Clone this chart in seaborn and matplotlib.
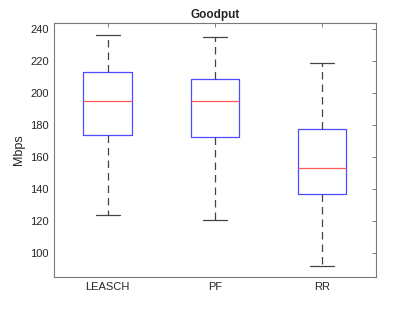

import pandas as pd
import matplotlib
matplotlib.use("Agg")
import matplotlib.pyplot as plt
import seaborn as sns

schedulers = ["LEASCH", "PF", "RR"]
# five-number summaries: min, q1, median, q3, max
leasch = [124, 174, 195, 213.5, 236.5]
pf = [121, 172.5, 195.5, 209, 235]
rr = [92, 137, 153.5, 178, 219]

rows = []
for name, vals in zip(schedulers, [leasch, pf, rr]):
    for v in vals:
        rows.append({"scheduler": name, "goodput": v})
df = pd.DataFrame(rows)

sns.set_style("white")
plt.rcParams["font.family"] = ["Liberation Sans", "DejaVu Sans"]

fig = plt.figure(figsize=(4.15, 3.12), dpi=100)
ax = fig.add_axes([0.130, 0.112, 0.776, 0.814])

sns.boxplot(
    data=df, x="scheduler", y="goodput", order=schedulers,
    whis=(0, 100), width=0.45, fill=False, showfliers=False, ax=ax,
    boxprops=dict(color="#4a4aff", linewidth=0.9),
    medianprops=dict(color="#ff5a5a", linewidth=0.9),
    whiskerprops=dict(color="#444444", linewidth=0.9, linestyle=(0, (6, 4))),
    capprops=dict(color="#444444", linewidth=0.9),
)

ax.set_xlim(-0.5, 2.5)
ax.set_ylim(85, 244)
ax.set_yticks(range(100, 241, 20))
ax.set_title("Goodput", fontsize=8.5, fontweight="bold", pad=4)
ax.set_ylabel("Mbps", fontsize=9, color="#222222")
ax.set_xlabel("")
ax.tick_params(direction="in", length=3, width=0.6, labelsize=8,
               top=True, right=True, color="#666666", labelcolor="#262626")
for s in ax.spines.values():
    s.set_color("#7a7a7a")
    s.set_linewidth(0.8)

fig.savefig("out.png", dpi=100)
